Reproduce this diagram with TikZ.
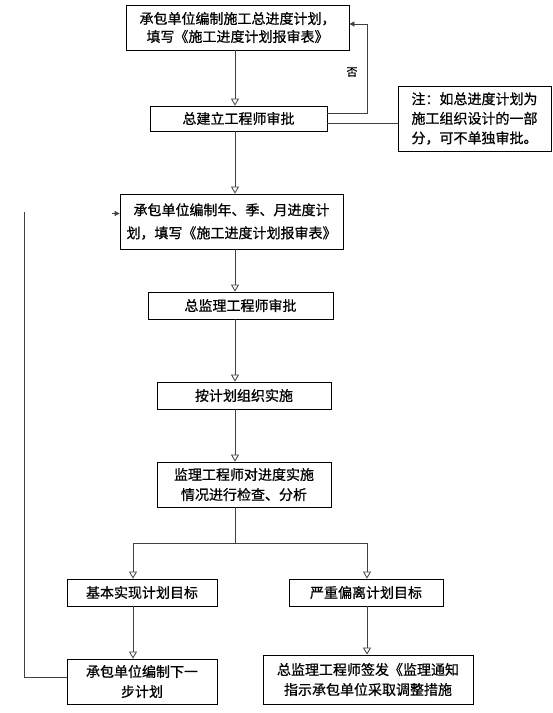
\documentclass[tikz,border=0pt]{standalone}
\usepackage{fontspec}
\setmainfont[FakeBold=0.7]{Noto Sans CJK SC}
\usetikzlibrary{
  arrows.meta,
  positioning,
  calc
}

\tikzset{
  box/.style={draw=black, line width=0.8pt, align=center, inner sep=2pt,
    font=\fontsize{14}{20}\selectfont},
  link/.style={draw=black!75, line width=0.8pt},
  down/.style={link, -{Triangle[open,length=7pt,width=8pt]}},
  back/.style={link, -{Triangle[length=5pt,width=5pt]}}
}

\begin{document}
\begin{tikzpicture}[x=1pt, y=-1pt]
\useasboundingbox (0,0) rectangle (553,713);
% guide lines of the flow
\coordinate (axis) at (235,0);
\coordinate (lefttap) at (133,0);
\coordinate (righttap) at (367,0);
\coordinate (split) at (235,543);
\coordinate (loop) at (24,212);

% boxes
\node[box, minimum width=223, minimum height=45, font=\fontsize{14}{18}\selectfont]
  (plan) at (237.5,27.5) {承包单位编制施工总进度计划，\\填写《施工进度计划报审表》};
\node[box, minimum width=177, minimum height=25] (chief) at (238.5,118.5) {总建立工程师审批};
\node[box, minimum width=153, minimum height=65, align=left, font=\fontsize{14}{19.5}\selectfont]
  (note) at (474.5,118.5) {注：如总进度计划为\\施工组织设计的一部\\分，可不单独审批。};
\node[box, minimum width=223, minimum height=55, font=\fontsize{14}{23}\selectfont]
  (yearplan) at (231.5,221.5) {承包单位编制年、季、月进度计\\划，填写《施工进度计划报审表》};
\node[box, minimum width=185, minimum height=27] (approve) at (240.5,305.5) {总监理工程师审批};
\node[box, minimum width=174, minimum height=27] (carry) at (244,395.5) {按计划组织实施};
\node[box, minimum width=174, minimum height=45] (check) at (244,484.5) {监理工程师对进度实施\\情况进行检查、分析};
\node[box, minimum width=150, minimum height=27] (basic) at (142,592.5) {基本实现计划目标};
\node[box, minimum width=154, minimum height=27] (deviate) at (366,592.5) {严重偏离计划目标};
\node[box, minimum width=150, minimum height=45] (next) at (142,681.5) {承包单位编制下一\\步计划};
\node[box, minimum width=210, minimum height=49] (notice) at (368,679.5) {总监理工程师签发《监理通知\\指示承包单位采取调整措施};

% main flow
\draw[down] (plan.south -| axis) -- (chief.north -| axis);
\draw[down] (chief.south -| axis) -- (yearplan.north -| axis);
\draw[down] (yearplan.south -| axis) -- (approve.north -| axis);
\draw[down] (approve.south -| axis) -- (carry.north -| axis);
\draw[down] (carry.south -| axis) -- (check.north -| axis);

% branch after the check
\draw[link] (check.south -| split) -- (split);
\draw[down] (split) -| (basic.north -| lefttap);
\draw[down] (split) -| (deviate.north -| righttap);
\draw[down] (basic.south -| lefttap) -- (next.north -| lefttap);
\draw[down] (deviate.south -| righttap) -- (notice.north -| righttap);

% return when not approved
\draw[back] ([yshift=5.5pt]chief.east) -- ++(40,0) |- ([yshift=3.5pt]plan.east);
\node[font=\fontsize{11}{11}\selectfont] (no) at (352,72) {否};
\draw[link] ([yshift=-4.5pt]chief.east) -- ([yshift=-4.5pt]note.west);

% return to the next period
\draw[link] ([yshift=4.5pt]next.west) -| (loop);
\draw[back] ([xshift=-8pt, yshift=8pt]yearplan.west) -- ([yshift=8pt]yearplan.west);
\end{tikzpicture}
\end{document}
